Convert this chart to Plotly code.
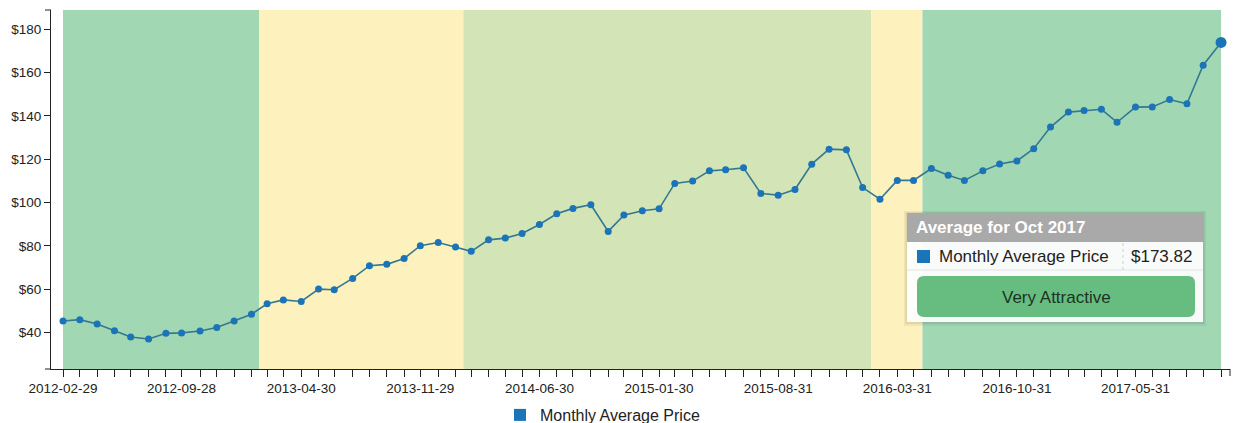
import pandas as pd
import plotly.graph_objects as go

# Monthly average price, Feb 2012 - Oct 2017 (one value per business month-end)
price = [
    45.4, 46.0, 44.0, 40.9, 38.0, 37.1, 39.7, 39.9, 40.8, 42.4, 45.4, 48.5,
    53.3, 55.1, 54.4, 60.1, 59.8, 65.0, 70.9, 71.5, 74.2, 80.1, 81.6, 79.5,
    77.5, 82.8, 83.6, 85.7, 89.9, 94.8, 97.3, 99.0, 86.7, 94.2, 96.2, 97.1,
    108.8, 109.9, 114.6, 115.1, 116.0, 104.2, 103.4, 106.0, 117.7, 124.6, 124.3, 106.9,
    101.5, 110.2, 110.2, 115.7, 112.6, 110.2, 114.6, 117.8, 119.2, 124.8, 134.8, 141.7,
    142.4, 143.0, 137.0, 144.0, 144.1, 147.5, 145.5, 163.3, 173.82,
]
first_month = "2012-02-01"
try:
    months = pd.date_range(first_month, periods=len(price), freq="BME")
except ValueError:
    months = pd.date_range(first_month, periods=len(price), freq="BM")

# Valuation zones: rating and first/last month index covered by each zone
zone_rating = ["Very Attractive", "Fair", "Attractive", "Fair", "Very Attractive"]
zone_first = [0, 12, 24, 48, 51]
zone_last = [11, 23, 47, 50, 68]
rating_color = {
    "Very Attractive": "#a2d7b3",
    "Attractive": "#d3e4b7",
    "Fair": "#fdf1be",
}
rating_button = {"Very Attractive": "#67bd80", "Attractive": "#b5d98a", "Fair": "#f5dc7a"}

y_ticks = [40, 60, 80, 100, 120, 140, 160, 180]
y_tick_labels = [f"${v}" for v in y_ticks]
label_every = 7

BLUE = "#1b74b8"
LINE = "#33798f"
AXIS = "#222222"
FONT = "Liberation Sans, Arial, Helvetica, sans-serif"

W, H = 1233, 423
PL, PR, PT, PB = 51, 1230, 10, 369  # plot area in pixels


def px(x):
    return (x - PL) / (PR - PL)


def py(y):
    return (PB - y) / (PB - PT)


def mid(i):
    return months[i] + (months[i + 1] - months[i]) / 2


fig = go.Figure()

fig.add_trace(go.Scatter(
    x=months, y=price, mode="lines+markers",
    line=dict(color=LINE, width=1.6),
    marker=dict(color=BLUE, size=7),
    showlegend=False, hoverinfo="skip",
))
# highlighted latest month
fig.add_trace(go.Scatter(
    x=[months[-1]], y=[price[-1]], mode="markers",
    marker=dict(color=BLUE, size=11),
    showlegend=False, hoverinfo="skip",
))
# legend entry
fig.add_trace(go.Scatter(
    x=[None], y=[None], mode="markers", name="Monthly Average Price",
    marker=dict(color=BLUE, size=12, symbol="square"),
))

shapes = []
for rating, a, b in zip(zone_rating, zone_first, zone_last):
    x0 = months[0] if a == 0 else mid(a - 1)
    x1 = months[-1] if b == len(price) - 1 else mid(b)
    shapes.append(dict(
        type="rect", xref="x", yref="paper", x0=x0, x1=x1, y0=0, y1=1,
        fillcolor=rating_color[rating], line=dict(width=0), layer="below",
    ))

# outer ticks at the ends of the axes
shapes += [
    dict(type="line", xref="paper", yref="paper", x0=px(45), x1=px(PL), y0=1, y1=1,
         line=dict(color=AXIS, width=1)),
    dict(type="line", xref="paper", yref="paper", x0=px(45), x1=px(PL), y0=0, y1=0,
         line=dict(color=AXIS, width=1)),
    dict(type="line", xref="paper", yref="paper", x0=1, x1=1, y0=0, y1=py(PB + 7),
         line=dict(color=AXIS, width=1)),
]


def rect(x0, y0, x1, y1, fill, line=None):
    return dict(type="rect", xref="paper", yref="paper",
                x0=px(x0), x1=px(x1), y0=py(y1), y1=py(y0),
                fillcolor=fill, line=line or dict(width=0), layer="above")


def rounded(x0, y0, x1, y1, r, fill):
    p = lambda x, y: f"{px(x):.6f},{py(y):.6f}"
    path = (f"M{p(x0 + r, y0)} L{p(x1 - r, y0)} Q{p(x1, y0)} {p(x1, y0 + r)} "
            f"L{p(x1, y1 - r)} Q{p(x1, y1)} {p(x1 - r, y1)} L{p(x0 + r, y1)} "
            f"Q{p(x0, y1)} {p(x0, y1 - r)} L{p(x0, y0 + r)} Q{p(x0, y0)} {p(x0 + r, y0)} Z")
    return dict(type="path", xref="paper", yref="paper", path=path,
                fillcolor=fill, line=dict(width=0), layer="above")


# tooltip card for the latest month
TX0, TY0, TX1, TY1 = 907, 213, 1203, 322
latest_rating = zone_rating[-1]
shapes += [
    rect(TX0 - 3, TY0 - 2, TX1 + 3, TY1 + 4, "rgba(0,0,0,0.05)"),
    rect(TX0 - 1.5, TY0 - 1, TX1 + 1.5, TY1 + 2, "rgba(0,0,0,0.07)"),
    rect(TX0, TY0, TX1, TY1, "rgba(255,255,255,0.94)"),
    rect(TX0, TY0, TX1, 242, "#a9a9a9"),
    dict(type="line", xref="paper", yref="paper", x0=px(TX0), x1=px(TX1), y0=py(270), y1=py(270),
         line=dict(color="#e2e2e2", width=1), layer="above"),
    dict(type="line", xref="paper", yref="paper", x0=px(1123), x1=px(1123), y0=py(243), y1=py(270),
         line=dict(color="#cfcfcf", width=1, dash="dot"), layer="above"),
    rect(917, 250, 930, 263, BLUE),
    rounded(917, 276, 1195, 317, 7, rating_button[latest_rating]),
]

tip_font = dict(family=FONT, size=17, color="#222222")
annotations = [
    dict(xref="paper", yref="paper", x=px(914), y=py(228), xanchor="left", yanchor="middle",
         text=f"<b>Average for {months[-1].strftime('%b %Y')}</b>", showarrow=False,
         font=dict(family=FONT, size=17, color="white")),
    dict(xref="paper", yref="paper", x=px(937), y=py(256.5), xanchor="left", yanchor="middle",
         text="Monthly Average Price", showarrow=False, font=tip_font),
    dict(xref="paper", yref="paper", x=px(1129), y=py(256.5), xanchor="left", yanchor="middle",
         text=f"${price[-1]:.2f}", showarrow=False, font=tip_font),
    dict(xref="paper", yref="paper", x=px(1056), y=py(297), xanchor="center", yanchor="middle",
         text=latest_rating, showarrow=False, font=dict(family=FONT, size=17, color="#1c3324")),
]

tick_text = [d.strftime("%Y-%m-%d") if i % label_every == 0 else "" for i, d in enumerate(months)]

fig.update_layout(
    width=W, height=H,
    margin=dict(l=PL, r=W - PR, t=PT, b=H - PB, pad=0, autoexpand=False),
    paper_bgcolor="white", plot_bgcolor="white",
    font=dict(family=FONT, color=AXIS),
    hovermode=False,
    shapes=shapes, annotations=annotations,
    legend=dict(orientation="h", xref="container", yref="container",
                x=500 / W, xanchor="left", y=1 - 415 / H, yanchor="middle",
                font=dict(family=FONT, size=16, color="#222222"), bgcolor="rgba(0,0,0,0)"),
    xaxis=dict(
        type="date", automargin=False,
        range=[months[0] - pd.Timedelta(days=21.5), months[-1] + pd.Timedelta(days=16)],
        tickmode="array", tickvals=list(months), ticktext=tick_text,
        ticks="outside", ticklen=7, tickcolor=AXIS, tickwidth=1,
        showline=True, linecolor=AXIS, linewidth=1,
        showgrid=False, zeroline=False,
        tickfont=dict(family=FONT, size=13.5, color=AXIS),
    ),
    yaxis=dict(
        range=[23.26, 188.76], automargin=False,
        tickmode="array", tickvals=y_ticks, ticktext=y_tick_labels,
        ticks="outside", ticklen=6, tickcolor=AXIS, tickwidth=1,
        showline=True, linecolor=AXIS, linewidth=1,
        showgrid=False, zeroline=False,
        tickfont=dict(family=FONT, size=13.5, color=AXIS),
    ),
)

fig.write_html("out.html")
